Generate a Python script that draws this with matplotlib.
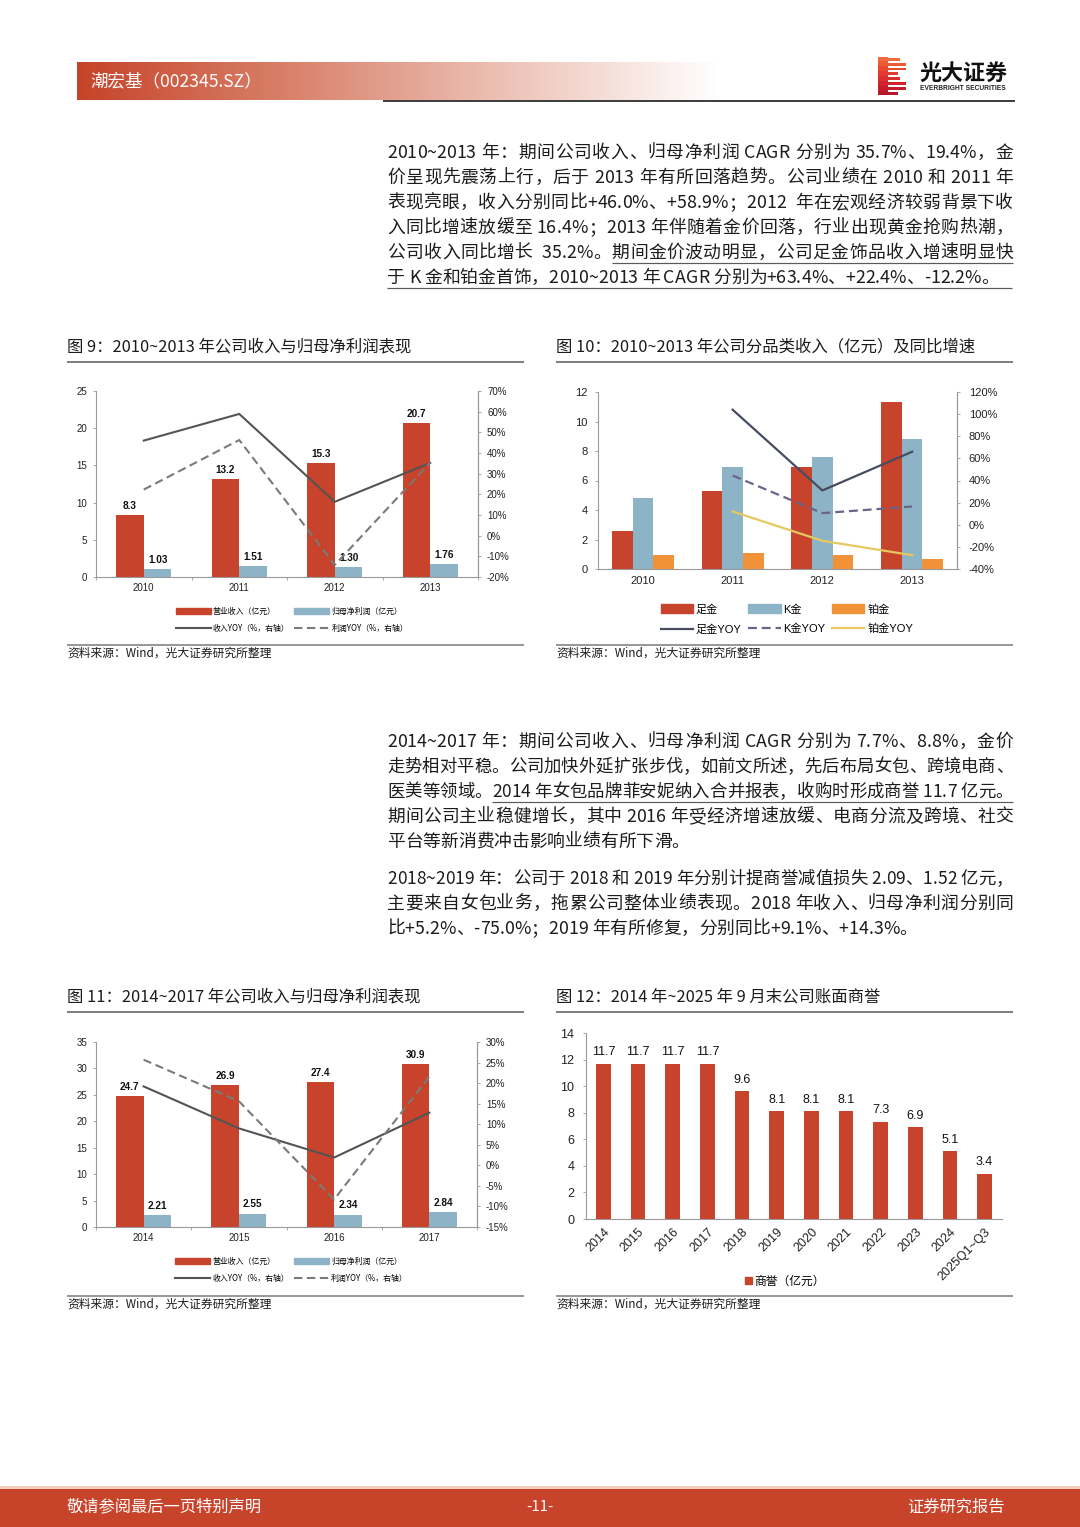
import numpy as np
import matplotlib
matplotlib.use('Agg')
import matplotlib.pyplot as plt
from matplotlib.patches import Patch, Rectangle
from matplotlib.lines import Line2D
from matplotlib.colors import LinearSegmentedColormap
from matplotlib import font_manager, ft2font
from matplotlib.font_manager import FontProperties

# ---------------- data ----------------
years_a = ['2010', '2011', '2012', '2013']
revenue_a = [8.3, 13.2, 15.3, 20.7]
netprofit_a = [1.03, 1.51, 1.30, 1.76]
revenue_yoy_a = [46.0, 58.9, 16.4, 35.2]
profit_yoy_a = [22.3, 46.3, -14.2, 35.4]

cat_labels = ['足金', 'K金', '铂金']
gold_rev = [2.6, 5.3, 6.9, 11.3]
kgold_rev = [4.8, 6.9, 7.6, 8.8]
plat_rev = [0.97, 1.06, 0.92, 0.65]
gold_yoy = [np.nan, 104.0, 31.0, 66.0]
kgold_yoy = [np.nan, 44.5, 10.5, 16.5]
plat_yoy = [np.nan, 12.0, -14.5, -27.5]

years_b = ['2014', '2015', '2016', '2017']
revenue_b = [24.7, 26.9, 27.4, 30.9]
netprofit_b = [2.21, 2.55, 2.34, 2.84]
revenue_yoy_b = [19.2, 9.0, 1.9, 12.8]
profit_yoy_b = [25.7, 15.6, -8.3, 21.6]

gw_periods = ['2014', '2015', '2016', '2017', '2018', '2019', '2020', '2021',
              '2022', '2023', '2024', '2025Q1~Q3']
goodwill = [11.7, 11.7, 11.7, 11.7, 9.6, 8.1, 8.1, 8.1, 7.3, 6.9, 5.1, 3.4]

# ---------------- style ----------------
RED = '#C8432B'
BLUE = '#8DB3C7'
ORANGE = '#F29238'
YELLOW = '#E6C85E'
TEXT = '#1c1c1c'
GRAYLINE = '#808080'
SPINE = '#9a9a9a'
CJK = 'Noto Sans CJK SC'
plt.rcParams['font.family'] = ['Liberation Sans', 'Noto Sans CJK SC', 'DejaVu Sans']

W, H = 1080, 1527
fig = plt.figure(figsize=(W / 100, H / 100), dpi=100)
fig.patch.set_facecolor('white')


def axpx(l, t, r, b, **kw):
    return fig.add_axes([l / W, 1 - b / H, (r - l) / W, (b - t) / H], **kw)


def P(px):
    return px * 0.72


def hline(x0, x1, y, color, lw_px, zorder=5):
    fig.add_artist(Line2D([x0 / W, x1 / W], [1 - y / H, 1 - y / H], transform=fig.transFigure,
                          color=color, lw=P(lw_px), zorder=zorder, solid_capstyle='butt'))


def ftext(x, y, s, size_px, **kw):
    kw.setdefault('family', CJK)
    kw.setdefault('color', TEXT)
    kw.setdefault('va', 'center')
    return fig.text(x / W, 1 - y / H, s, fontsize=P(size_px), **kw)


# ---------------- body text with justification ----------------
_font_path = font_manager.findfont(FontProperties(family=CJK))
_ftf = ft2font.FT2Font(_font_path)
try:
    _NOHINT = ft2font.LoadFlags.NO_HINTING
except AttributeError:
    _NOHINT = ft2font.LOAD_NO_HINTING
BODY_PX = 17.8
_adv_cache = {}


def char_adv(c, px_size):
    key = (c, round(px_size, 3))
    if key not in _adv_cache:
        _ftf.set_size(P(px_size), 100)
        g = _ftf.load_char(ord(c), flags=_NOHINT)
        _adv_cache[key] = g.linearHoriAdvance / 65536.0
    return _adv_cache[key]


def is_latin(c):
    return '!' <= c <= '~'


def draw_line(x0, x1, ycenter, segs, justify=True, ul_end=None):
    chars = []
    for s, ul in segs:
        for c in s:
            chars.append((c, ul))
    size = BODY_PX
    natural = sum(char_adv(c, size) for c, _ in chars)
    if justify and natural > (x1 - x0) - 2:
        # shrink this line slightly so that it fits without overlapping glyphs
        size = size * ((x1 - x0) - 2) / natural
    advs = [char_adv(c, size) for c, _ in chars]
    n = len(chars)
    elig = [not (is_latin(chars[i][0]) and is_latin(chars[i + 1][0])) for i in range(n - 1)]
    ne = max(1, sum(elig))
    gap = (x1 - x0 - sum(advs)) / ne if justify else 0.0
    yb = ycenter + 0.38 * BODY_PX
    x = x0
    ranges, cur = [], None
    for i, ((c, ul), a) in enumerate(zip(chars, advs)):
        if c != ' ':
            fig.text(x / W, 1 - yb / H, c, fontsize=P(size), family=CJK, ha='left',
                     va='baseline', color=TEXT)
        if ul:
            if cur is None:
                cur = [x, x + a]
            else:
                cur[1] = x + a
        elif cur is not None:
            ranges.append(cur)
            cur = None
        x += a + (gap if (i < n - 1 and elig[i]) else 0.0)
    if cur is not None:
        ranges.append(cur)
    for a, b in ranges:
        end = ul_end if ul_end is not None else b
        hline(a, min(end, x1), yb + 5, '#5a5a5a', 1.2)


TX0, TX1 = 387, 1013
block1 = [
    ([('2010~2013 年：期间公司收入、归母净利润 CAGR 分别为 35.7%、19.4%，金', False)], True),
    ([('价呈现先震荡上行，后于 2013 年有所回落趋势。公司业绩在 2010 和 2011 年', False)], True),
    ([('表现亮眼，收入分别同比+46.0%、+58.9%；2012  年在宏观经济较弱背景下收', False)], True),
    ([('入同比增速放缓至 16.4%；2013 年伴随着金价回落，行业出现黄金抢购热潮，', False)], True),
    ([('公司收入同比增长  35.2%。', False), ('期间金价波动明显，公司足金饰品收入增速明显快', True)], True),
    ([('于 K 金和铂金首饰，2010~2013 年 CAGR 分别为+63.4%、+22.4%、-12.2%。', True)], False),
]
for i, (segs, j) in enumerate(block1):
    draw_line(TX0, TX1, 151 + 25 * i, segs, j, ul_end=1012 if i == 5 else None)

block2 = [
    ([('2014~2017 年：期间公司收入、归母净利润 CAGR 分别为 7.7%、8.8%，金价', False)], True),
    ([('走势相对平稳。公司加快外延扩张步伐，如前文所述，先后布局女包、跨境电商、', False)], True),
    ([('医美等领域。', False), ('2014 年女包品牌菲安妮纳入合并报表，收购时形成商誉 11.7 亿元。', True)], True),
    ([('期间公司主业稳健增长，其中 2016 年受经济增速放缓、电商分流及跨境、社交', False)], True),
    ([('平台等新消费冲击影响业绩有所下滑。', False)], False),
]
for i, (segs, j) in enumerate(block2):
    draw_line(TX0, TX1, 740 + 25 * i, segs, j)

block3 = [
    ([('2018~2019 年：公司于 2018 和 2019 年分别计提商誉减值损失 2.09、1.52 亿元，', False)], True),
    ([('主要来自女包业务，拖累公司整体业绩表现。2018 年收入、归母净利润分别同', False)], True),
    ([('比+5.2%、-75.0%；2019 年有所修复，分别同比+9.1%、+14.3%。', False)], False),
]
for i, (segs, j) in enumerate(block3):
    draw_line(TX0, TX1, 877 + 25 * i, segs, j)

# ---------------- header ----------------
axh = axpx(77, 62, 720, 100)
grad = np.linspace(0, 1, 400).reshape(1, -1)
cmap_h = LinearSegmentedColormap.from_list('h', ['#C54429', '#D9826C', '#EDC2B6', '#FFFFFF'])
axh.imshow(grad, aspect='auto', cmap=cmap_h, extent=[0, 1, 0, 1])
axh.axis('off')
ftext(90, 81, '潮宏基（002345.SZ）', 17.5, color='white')
hline(383, 1015, 101, '#111111', 1.6)

# logo
axl = axpx(878, 57, 907, 96)
axl.set_xlim(0, 1)
axl.set_ylim(0, 1)
axl.axis('off')
stripe_cols = ['#F26B3A', '#EE5A34', '#E8462F', '#E23A2E', '#DA2D2D', '#D0232C', '#C51B2B', '#BA152A']
widths = [0.75, 0.95, 0.95, 0.7, 0.75, 0.95, 0.95, 0.7]
for k in range(8):
    y0 = 1 - (k + 1) / 8
    axl.add_patch(Rectangle((0, y0 + 0.015), 0.35, 1 / 8, color=stripe_cols[k], lw=0))
    axl.add_patch(Rectangle((0.35, y0 + 0.03), widths[k] - 0.35, 1 / 8 - 0.05, color=stripe_cols[k], lw=0))
ftext(919, 73, '光大证券', 22, weight='bold', color='#111111')
ftext(920, 89, 'EVERBRIGHT SECURITIES', 6.6, weight='bold', color='#222222', family='Liberation Sans')

# ---------------- titles / sources ----------------
def chart_frame(x0, x1, ytitle, ysrc, title):
    ftext(x0, ytitle, title, 16.4)
    hline(x0, x1, ytitle + 15, GRAYLINE, 2)
    hline(x0, x1, ysrc - 8, GRAYLINE, 1.6)
    ftext(x0, ysrc, '资料来源：Wind，光大证券研究所整理', 11.8)


chart_frame(67, 524, 347, 653, '图 9：2010~2013 年公司收入与归母净利润表现')
chart_frame(556, 1013, 347, 653, '图 10：2010~2013 年公司分品类收入（亿元）及同比增速')
chart_frame(67, 524, 997, 1304, '图 11：2014~2017 年公司收入与归母净利润表现')
chart_frame(556, 1013, 997, 1304, '图 12：2014 年~2025 年 9 月末公司账面商誉')

# ---------------- footer ----------------
fig.add_artist(Rectangle((0, 1 - 1489 / H), 1, 3 / H, transform=fig.transFigure, color='#F4CBBB', lw=0))
fig.add_artist(Rectangle((0, 0), 1, 1 - 1489 / H, transform=fig.transFigure, color='#C7432A', lw=0))
ftext(67, 1507, '敬请参阅最后一页特别声明', 16.3, color='white')
ftext(540, 1507, '-11-', 15, color='white', ha='center')
ftext(1005, 1507, '证券研究报告', 16.3, color='white', ha='right')


# ---------------- chart helpers ----------------
def style(ax, fs):
    ax.spines['top'].set_visible(False)
    for s in ['left', 'right', 'bottom']:
        ax.spines[s].set_color(SPINE)
        ax.spines[s].set_linewidth(0.8)
    ax.tick_params(axis='both', colors=SPINE, labelcolor='#222222', labelsize=fs,
                   length=2.5, width=0.6, direction='out')
    ax.patch.set_alpha(0)


def pct(v, p):
    return f'{v:.0f}%'


def rev_profit_chart(box, years, rev, npf, ryoy, pyoy, ylim, yticks, y2lim, y2ticks, leg_y):
    x = np.arange(len(years))
    bw = 0.29
    ax = axpx(*box)
    ax.bar(x - bw / 2, rev, bw, color=RED, zorder=2)
    ax.bar(x + bw / 2, npf, bw, color=BLUE, zorder=2)
    ax.set_xlim(-0.5, len(years) - 0.5)
    ax.set_ylim(*ylim)
    ax.set_yticks(yticks)
    ax.set_xticks(x)
    ax.set_xticklabels(years)
    ax.set_xticks(np.arange(-0.5, len(years), 1.0), minor=True)
    style(ax, 7)
    ax.tick_params(axis='x', which='major', length=0, pad=4)
    ax.tick_params(axis='x', which='minor', length=2.5, color=SPINE)
    ax.tick_params(axis='y', pad=4)
    for xi, v in zip(x, rev):
        ax.annotate(f'{v:.1f}', (xi - bw / 2, v), xytext=(0, 3), textcoords='offset points',
                    ha='center', va='bottom', fontsize=7.2, weight='bold', color='#111111')
    for xi, v in zip(x, npf):
        ax.annotate(f'{v:.2f}', (xi + bw / 2, v), xytext=(0, 3), textcoords='offset points',
                    ha='center', va='bottom', fontsize=7.2, weight='bold', color='#111111')
    ax2 = ax.twinx()
    l1, = ax2.plot(x, ryoy, color='#545454', lw=1.5, zorder=3)
    l2, = ax2.plot(x, pyoy, color='#7a7a7a', lw=1.5, ls=(0, (4, 2.2)), zorder=3)
    ax2.set_ylim(*y2lim)
    ax2.set_yticks(y2ticks)
    ax2.yaxis.set_major_formatter(pct)
    style(ax2, 7)
    ax2.tick_params(axis='y', pad=4)
    ax2.spines['left'].set_visible(False)
    ax2.spines['bottom'].set_visible(False)
    handles = [Patch(color=RED), l1, Patch(color=BLUE), l2]
    labels = ['营业收入（亿元）', '收入YOY（%，右轴）', '归母净利润（亿元）', '利润YOY（%，右轴）']
    fig.legend(handles, labels, ncol=2, loc='upper center',
               bbox_to_anchor=((box[0] + box[2]) / 2 / W + 5 / W, 1 - leg_y / H),
               frameon=False, handlelength=4.4, handleheight=0.8,
               handletextpad=0.3, columnspacing=0.6, labelspacing=0.95,
               prop={'family': ['Noto Sans CJK SC', 'DejaVu Sans'], 'size': 5.7})
    return ax


# chart 9
rev_profit_chart((96, 391, 478, 577), years_a, revenue_a, netprofit_a, revenue_yoy_a, profit_yoy_a,
                 (0, 25), range(0, 26, 5), (-20, 70), range(-20, 71, 10), 600)
# chart 11
rev_profit_chart((96, 1042, 477, 1227), years_b, revenue_b, netprofit_b, revenue_yoy_b, profit_yoy_b,
                 (0, 35), range(0, 36, 5), (-15, 30), range(-15, 31, 5), 1250)

# chart 10
x = np.arange(4)
bw = 0.23
ax10 = axpx(598, 392, 957, 569)
ax10.bar(x - bw, gold_rev, bw, color=RED, zorder=2)
ax10.bar(x, kgold_rev, bw, color=BLUE, zorder=2)
ax10.bar(x + bw, plat_rev, bw, color=ORANGE, zorder=2)
ax10.set_xlim(-0.5, 3.5)
ax10.set_ylim(0, 12)
ax10.set_yticks(range(0, 13, 2))
ax10.set_xticks(x)
ax10.set_xticklabels(years_a)
style(ax10, 8)
ax10.tick_params(axis='x', length=0, pad=5)
ax10.tick_params(axis='y', pad=5)
ax10b = ax10.twinx()
m1, = ax10b.plot(x, gold_yoy, color='#474C60', lw=1.6)
m2, = ax10b.plot(x, kgold_yoy, color='#6C6488', lw=1.6, ls=(0, (4, 2.2)))
m3, = ax10b.plot(x, plat_yoy, color=YELLOW, lw=1.6)
ax10b.set_ylim(-40, 120)
ax10b.set_yticks(range(-40, 121, 20))
ax10b.yaxis.set_major_formatter(pct)
style(ax10b, 8)
ax10b.tick_params(axis='y', pad=6)
ax10b.spines['left'].set_visible(False)
ax10b.spines['bottom'].set_visible(False)
fig.legend([Patch(color=RED), m1, Patch(color=BLUE), m2, Patch(color=ORANGE), m3],
           [cat_labels[0], cat_labels[0] + 'YOY', cat_labels[1], cat_labels[1] + 'YOY',
            cat_labels[2], cat_labels[2] + 'YOY'],
           ncol=3, loc='upper center', bbox_to_anchor=(787 / W, 1 - 594 / H), frameon=False,
           handlelength=2.9, handleheight=0.8, handletextpad=0.25, columnspacing=0.6,
           labelspacing=0.85,
           prop={'family': ['Liberation Sans', 'Noto Sans CJK SC'], 'size': 8})

# chart 12
xg = np.arange(len(goodwill))
ax12 = axpx(586, 1033, 1002, 1219)
ax12.bar(xg, goodwill, 0.43, color=RED, zorder=2)
ax12.set_xlim(-0.5, len(goodwill) - 0.5)
ax12.set_ylim(0, 14)
ax12.set_yticks(range(0, 15, 2))
ax12.set_xticks(xg)
ax12.set_xticklabels(gw_periods, rotation=45, ha='right', rotation_mode='anchor')
style(ax12, 9)
ax12.spines['right'].set_visible(False)
ax12.tick_params(axis='x', length=0, pad=5)
ax12.tick_params(axis='y', pad=6)
for xi, v in zip(xg, goodwill):
    ax12.annotate(f'{v:.1f}', (xi, v), xytext=(0, 4), textcoords='offset points',
                  ha='center', va='bottom', fontsize=9, color='#111111')
fig.legend([Patch(color=RED)], ['商誉（亿元）'], loc='center', bbox_to_anchor=(785 / W, 1 - 1281 / H),
           frameon=False, handlelength=0.6, handleheight=0.6, handletextpad=0.15,
           prop={'family': ['Noto Sans CJK SC', 'DejaVu Sans'], 'size': 8.5})

fig.savefig('out.png', dpi=100)
